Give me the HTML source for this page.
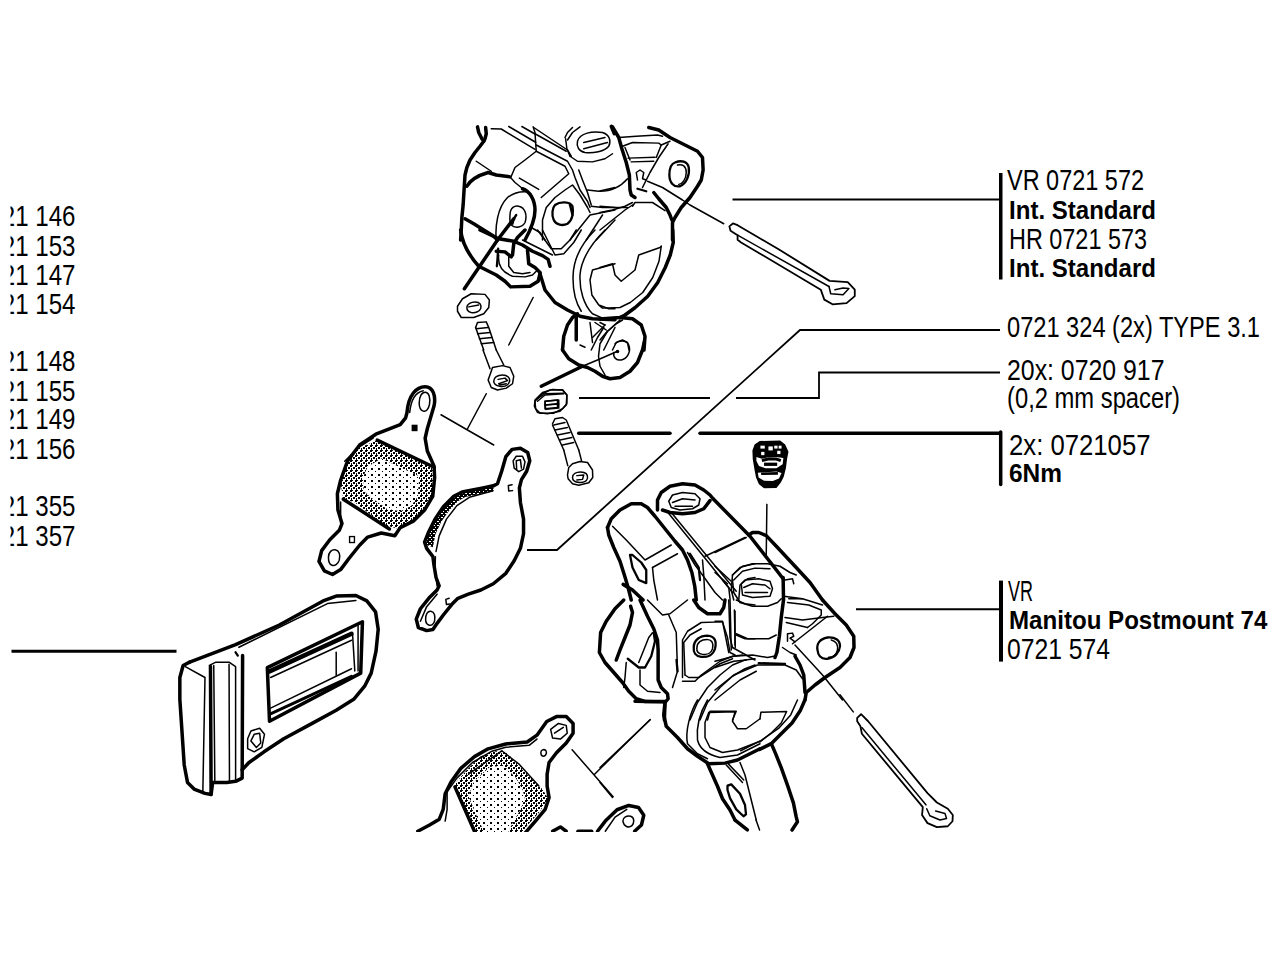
<!DOCTYPE html>
<html><head><meta charset="utf-8">
<style>
html,body{margin:0;padding:0;background:#fff;width:1280px;height:960px;overflow:hidden}
svg{position:absolute;left:0;top:0}
text{font-family:"Liberation Sans",sans-serif;font-size:29.5px;fill:#000}
.b{font-weight:bold;font-size:26.5px}
.k path,.t path,.m path,.k line,.t line,.m line{fill:none;stroke:#000;vector-effect:non-scaling-stroke;stroke-linejoin:round;stroke-linecap:round}
.k path,.k line{stroke-width:3.5px}
.t path,.t line{stroke-width:1.5px}
.m path,.m line{stroke-width:2.3px}
.p path{fill:none;stroke:#000;stroke-width:1.8px;vector-effect:non-scaling-stroke;stroke-linejoin:round}
.L path,.L line{fill:none;stroke:#000;stroke-width:1.8px}
</style></head><body>
<svg width="1280" height="960" viewBox="0 0 1280 960">
<g id="lefttext">
<text x="-25" y="226" textLength="100.5" lengthAdjust="spacingAndGlyphs">0721 146</text>
<text x="-25" y="255.5" textLength="100.5" lengthAdjust="spacingAndGlyphs">0721 153</text>
<text x="-25" y="284.5" textLength="100.5" lengthAdjust="spacingAndGlyphs">0721 147</text>
<text x="-25" y="314" textLength="100.5" lengthAdjust="spacingAndGlyphs">0721 154</text>
<text x="-25" y="371" textLength="100.5" lengthAdjust="spacingAndGlyphs">0721 148</text>
<text x="-25" y="400.5" textLength="100.5" lengthAdjust="spacingAndGlyphs">0721 155</text>
<text x="-25" y="429" textLength="100.5" lengthAdjust="spacingAndGlyphs">0721 149</text>
<text x="-25" y="458.5" textLength="100.5" lengthAdjust="spacingAndGlyphs">0721 156</text>
<text x="-25" y="516" textLength="100.5" lengthAdjust="spacingAndGlyphs">0721 355</text>
<text x="-25" y="545.5" textLength="100.5" lengthAdjust="spacingAndGlyphs">0721 357</text>
</g>
<rect x="0" y="180" width="10.5" height="400" fill="#fff"/>
<g id="righttext">
<text x="1007" y="190" textLength="137" lengthAdjust="spacingAndGlyphs">VR 0721 572</text>
<text class="b" x="1009" y="219" textLength="147" lengthAdjust="spacingAndGlyphs">Int. Standard</text>
<text x="1009" y="249" textLength="138" lengthAdjust="spacingAndGlyphs">HR 0721 573</text>
<text class="b" x="1009" y="277" textLength="147" lengthAdjust="spacingAndGlyphs">Int. Standard</text>
<text x="1007" y="337" textLength="253" lengthAdjust="spacingAndGlyphs">0721 324 (2x) TYPE  3.1</text>
<text x="1007" y="379.6" textLength="157.5" lengthAdjust="spacingAndGlyphs">20x: 0720 917</text>
<text x="1007" y="408" textLength="173" lengthAdjust="spacingAndGlyphs">(0,2 mm spacer)</text>
<text x="1009" y="454.5" textLength="141.5" lengthAdjust="spacingAndGlyphs">2x: 0721057</text>
<text class="b" x="1009" y="482" textLength="53" lengthAdjust="spacingAndGlyphs">6Nm</text>
<text x="1008" y="601" textLength="25" lengthAdjust="spacingAndGlyphs">VR</text>
<text class="b" x="1009" y="628.6" textLength="258.4" lengthAdjust="spacingAndGlyphs">Manitou Postmount 74</text>
<text x="1007" y="659.2" textLength="103" lengthAdjust="spacingAndGlyphs">0721 574</text>
</g>
<g transform="translate(595,480) scale(0.125)">
<g class="k">
<path d="M100,380 L130,310 L200,240 L290,190 L370,190 L420,220 L480,290 L560,390 L640,490 L700,560 L740,640 L775,740 L798,850 L810,960"/>
<path d="M100,380 L110,440 L150,540 L200,650 L235,760 L265,860 L290,960"/>
<path d="M225,835 L300,880 L385,960"/>
<path d="M500,240 L500,160 L530,100 L600,50 L700,30 L800,40 L870,80 L920,120 L945,150"/>
<path d="M540,240 L600,260 L700,270 L800,260 L870,230 L920,165"/>
</g>
<g class="m">
<path d="M280,600 L300,700 L350,800 L410,825 L410,720 L370,660 L300,600 Z"/>
<path d="M760,590 L830,700 L840,800"/>
</g>
<g class="t">
<path d="M590,170 L620,120 L700,100 L800,110 L840,150 L830,200 L780,230 L680,240 L610,220 Z"/>
<path d="M620,180 L700,150 L800,160"/>
<path d="M640,210 L780,210"/>
<path d="M585,262 L900,650 L1100,900"/>
<path d="M612,262 L930,650 L1130,890"/>
<path d="M880,610 L1200,460"/>
<path d="M140,370 L250,480 L400,640 L610,520"/>
<path d="M460,700 L660,590"/>
<path d="M460,700 L470,800 L500,960"/>
<path d="M740,580 L800,680 L860,760 L960,900 L1020,960"/>
<path d="M860,640 L870,760 L880,960"/>
<path d="M1100,760 L1180,690 L1280,670"/>
<path d="M1150,960 L1160,840 L1220,790 L1280,780"/>
</g>
</g>
<g transform="translate(715,480) scale(0.125)">
<g class="k">
<path d="M-15,150 L280,450 L460,680 L545,790"/>
<path d="M270,440 L300,420 L350,420 L410,445 L500,540 L640,690 L760,820 L860,960"/>
<path d="M545,780 L548,960"/>
</g>
<g class="t">
<path d="M415,195 L410,600"/>
<path d="M0,580 L250,460"/>
<path d="M140,760 L200,700 L300,670 L420,670 L520,690 L600,740 L650,760"/>
<path d="M150,800 L220,730 L320,705 L440,710"/>
<path d="M210,830 L240,800 L350,790 L440,810 L460,870 L440,930 L300,940 L220,920 Z"/>
<path d="M230,860 L300,830 L400,840 L440,870"/>
<path d="M240,900 L420,900"/>
<path d="M0,690 L130,810"/>
<path d="M0,740 L100,830"/>
<path d="M560,800 L620,790 L630,830"/>
<path d="M590,950 L700,950"/>
<path d="M140,760 L130,880 L150,960"/>
</g>
</g>
<g transform="translate(595,600) scale(0.125)">
<g class="k">
<path d="M230,0 L160,70 L90,170 L45,260 L35,420 L80,500 L150,580 L220,660 L270,730 L330,790 L400,812 L560,812"/>
<path d="M360,0 L420,130 L470,230 L500,320 L505,400 L505,640 L530,700 L580,750 L585,790 L560,820 L555,960"/>
<path d="M170,480 L200,400 L240,300 L280,200 L300,100 L285,50"/>
<path d="M790,0 L830,60 L900,110 L1000,110 L1030,60 L1040,0"/>
</g>
<g class="m">
<path d="M262,470 L350,540 L400,540 L450,450 L480,330 L470,262"/>
<path d="M652,480 L660,570"/>
<path d="M790,380 C790,320 840,285 900,285 C960,290 975,330 960,390 C945,440 900,460 850,455 C805,450 785,420 790,380 Z"/>
</g>
<g class="t">
<path d="M350,500 L430,300 L460,262"/>
<path d="M720,600 L750,620 L830,620 L1000,510 L1100,470"/>
<path d="M250,500 L240,620 L230,700"/>
<path d="M360,560 L360,680 L420,730 L520,740"/>
<path d="M590,120 L650,260 L660,570 L620,700"/>
<path d="M420,0 L540,120 L600,110 L740,0"/>
<path d="M700,650 L800,650 L850,600 L1000,490 L1100,450 L1180,440"/>
<path d="M700,620 L700,320 L740,250 L850,180 L1020,175 L1060,300 L1080,420 L1120,440"/>
<path d="M720,600 L710,340 L760,280 L850,230"/>
<path d="M815,385 C815,340 850,315 895,315 C940,320 950,350 940,390 C930,425 895,440 860,435 C830,430 812,410 815,385 Z"/>
<path d="M760,960 L820,820 L900,700 L1000,600 L1100,520 L1200,480 L1280,470"/>
<path d="M840,960 L900,820 L1000,700 L1100,610 L1200,550 L1280,520"/>
<path d="M1070,0 L1080,300 L1100,380"/>
<path d="M1120,90 L1120,360"/>
<path d="M1130,280 L1200,310 L1280,310"/>
<path d="M1130,0 L1200,30 L1280,40"/>
<path d="M1100,380 L1280,480"/>
<path d="M900,960 L920,890 L1130,890 L1100,960"/>
</g>
</g>
<g transform="translate(715,580) scale(0.125)">
<g class="k">
<path d="M860,160 L960,270 L1050,360 L1110,450 L1112,540 L1080,620 L1000,700 L880,780 L800,840 L730,900 L720,960"/>
<path d="M548,160 L530,300 L515,450 L495,580 L480,620"/>
<path d="M640,610 L680,680 L710,760 L720,900"/>
</g>
<g class="m">
<path d="M820,560 C810,510 840,470 900,460 C960,455 1000,480 1000,530 C995,580 960,620 900,630 C850,635 825,610 820,560 Z"/>
<path d="M350,665 L560,672"/>
</g>
<g class="t">
<path d="M930,480 C970,490 985,520 980,560 C972,600 940,620 910,618"/>
<path d="M140,0 L150,100 L200,180 L300,210 L420,210 L500,180 L530,150"/>
<path d="M155,240 L162,540"/>
<path d="M170,430 L260,470 L430,470 L490,440"/>
<path d="M550,130 L700,150 L860,200"/>
<path d="M580,180 L750,200 L850,240 L850,280 L780,350 L740,380"/>
<path d="M560,300 L700,320 L860,300 L950,290"/>
<path d="M570,340 L740,380"/>
<path d="M580,490 L580,430 L620,425 L630,450 L600,465 L640,495"/>
<path d="M620,510 L900,290"/>
<path d="M640,520 L860,760 L1020,960"/>
<path d="M540,540 L600,580 L650,600"/>
<path d="M60,0 L110,60 L120,150 L130,560"/>
<path d="M0,330 L60,330 L110,580"/>
<path d="M0,650 L150,610 L300,600 L420,620 L470,610"/>
<path d="M0,700 L150,650 L250,640"/>
<path d="M0,880 L150,760 L340,680 L560,680 L650,720 L700,790"/>
<path d="M0,960 L100,880 L200,800 L330,730"/>
</g>
</g>
<g transform="translate(600,700) scale(0.125)">
<g class="k">
<path d="M280,10 L520,15 L510,120 L530,210 L620,300 L700,390 L780,450 L870,510 L1000,505 L1100,480 L1200,430 L1280,390"/>
<path d="M860,510 L900,600 L940,690 L980,790 L1040,880 L1080,960"/>
</g>
<g class="m">
<path d="M1020,685 L1050,675 L1120,750 L1160,840 L1168,915 L1148,930 L1090,875 L1040,785 L1020,720 Z"/>
</g>
<g class="t">
<path d="M1120,500 L1160,600 L1200,760 L1250,960"/>
<path d="M1010,520 L1140,660"/>
<path d="M1030,515 L1150,640"/>
<path d="M780,0 C720,100 680,250 700,350 L780,430 L860,470"/>
<path d="M860,0 C800,100 770,220 780,320 C800,400 870,440 960,460 L1100,440 L1280,350"/>
<path d="M870,100 L1080,95 L1060,170 L1100,230 L1170,230 L1280,150"/>
<path d="M870,100 L840,180 L840,300 L880,380 L980,420 L1100,400 L1280,330"/>
<path d="M400,160 L0,540"/>
<path d="M0,660 L100,780"/>
</g>
</g>
<g transform="translate(700,700) scale(0.13536)">
<g class="k">
<path d="M775,0 L740,80 L680,170 L600,250 L530,320 L440,365"/>
<path d="M530,330 L560,400 L600,500 L650,640 L690,760 L710,860 L720,900 L680,960"/>
<path d="M259,887 L350,960"/>
</g>
<g class="t">
<path d="M443,140 L450,90 L640,85 L600,170 L530,240 L443,310"/>
<path d="M720,0 L670,110 L580,210 L450,300 L300,375"/>
<path d="M414,887 L440,960"/>
</g>
</g>
<g transform="translate(740,430) scale(0.0729)">
<path d="M270,150 L550,145 L620,200 L665,300 L645,400 L630,520 L600,640 L560,720 L500,795 L330,800 L260,745 L220,650 L200,550 L175,400 L170,280 L200,200 Z" fill="#000"/>
<path d="M225,370 L300,395 L400,370 L500,370 L595,385 L585,470 L500,525 L350,525 L260,495 L225,425 Z" fill="#fff"/>
<path d="M300,420 L400,395 L500,398 L560,420" stroke="#000" stroke-width="40" fill="none"/>
<path d="M330,470 L510,470" stroke="#000" stroke-width="45" fill="none"/>
<path d="M245,585 L500,570 L570,590 L535,665 L450,700 L330,695 L255,650 Z" fill="#fff"/>
<path d="M290,600 L520,595" stroke="#000" stroke-width="35" fill="none"/>
<rect x="280" y="215" width="60" height="40" fill="#fff"/>
<rect x="390" y="225" width="60" height="55" fill="#fff"/>
<rect x="470" y="215" width="45" height="40" fill="#fff"/>
<rect x="530" y="215" width="40" height="40" fill="#fff"/>
<rect x="290" y="300" width="45" height="45" fill="#fff"/>
<rect x="510" y="285" width="45" height="45" fill="#fff"/>
</g>
<defs>
<pattern id="darkdots" width="4" height="4" patternUnits="userSpaceOnUse"><rect width="4" height="4" fill="#000"/><rect x="1" y="1" width="2" height="1" fill="#fff"/><rect x="3" y="3" width="1" height="1" fill="#fff"/></pattern>
<pattern id="dense" width="3" height="3" patternUnits="userSpaceOnUse"><rect width="1.6" height="1.6" fill="#000"/></pattern>
<pattern id="dense2" width="5" height="5" patternUnits="userSpaceOnUse"><rect width="2" height="2" fill="#000"/><rect x="3" y="2" width="2" height="2" fill="#000"/><rect x="1" y="3" width="1" height="2" fill="#000"/><rect x="2" y="0" width="1" height="1" fill="#000"/></pattern>
<pattern id="sparse" width="7" height="6" patternUnits="userSpaceOnUse"><rect width="2" height="2" fill="#000"/><rect x="4" y="3" width="1" height="1" fill="#000"/></pattern>
</defs>
<clipPath id="fr1o"><path transform="translate(300,380) scale(0.27087)" d="M285,222 L495,322 L492,430 L462,480 L420,518 L360,548 L310,535 L200,450 L160,440 L150,380 L175,300 L220,250 Z"/></clipPath>
<clipPath id="fr1i"><path transform="translate(300,380) scale(0.27087)" d="M300,290 L440,355 L435,430 L410,465 L370,485 L320,475 L250,425 L235,405 L232,360 L250,320 Z"/></clipPath>
<rect x="330" y="430" width="120" height="120" fill="url(#dense2)" clip-path="url(#fr1o)"/>
<rect x="330" y="430" width="120" height="120" fill="#fff" clip-path="url(#fr1i)"/>
<rect x="330" y="430" width="120" height="120" fill="url(#sparse)" clip-path="url(#fr1i)"/>
<g transform="translate(300,380) scale(0.27087)">
<g class="k">
<path d="M395,120 C400,55 430,25 462,25 C492,25 502,60 495,95 L470,180 L462,215 L470,262 L495,318 L497,360 L490,430 L460,480 L420,520 L370,545 L350,575 L300,565 L250,580 L220,610 L180,660 L150,700 L120,718 L90,705 L70,670 L80,630 L110,590 L145,555 L155,530 L140,480 L138,420 L150,370 L175,300 L220,240 L280,200 L330,180 L370,165 L390,140 Z"/>
<path d="M285,222 L495,322"/>
<path d="M160,440 L330,550"/>
</g>
<g class="t">
<path d="M440,85 C440,60 450,45 462,45 C476,45 482,65 478,90 C474,110 465,118 455,115 C445,112 440,100 440,85 Z"/>
<path d="M405,120 C410,70 430,45 455,40"/>
<path d="M105,655 C105,635 118,625 130,627 C145,630 150,645 145,665 C140,680 128,688 118,684 C108,680 105,668 105,655 Z"/>
<path d="M150,450 L150,530"/>
<path d="M165,300 L215,250 L270,215"/>
</g>
<rect x="412" y="165" width="22" height="24" fill="#000"/>
<rect x="183" y="578" width="18" height="22" fill="none" stroke="#000" stroke-width="5"/>
</g>
<clipPath id="sh2"><path transform="translate(410,440) scale(0.20833)" d="M70,500 L88,440 L118,380 L158,320 L208,268 L250,248 L300,238 L400,218 L402,246 L310,264 L265,274 L230,294 L188,338 L150,392 L122,452 L110,515 Z"/></clipPath>
<rect x="420" y="480" width="90" height="80" fill="url(#darkdots)" clip-path="url(#sh2)"/>
<g transform="translate(410,440) scale(0.20833)">
<g class="k">
<path d="M420,210 L440,150 L460,80 L490,45 L530,40 L565,60 L575,100 L560,150 L535,190 L525,230 L530,300 L545,380 L545,450 L530,520 L500,580 L460,640 L400,690 L340,720 L280,740 L230,760 L200,790 L160,840 L130,880 L110,910 L80,915 L40,900 L30,860 L50,810 L90,760 L130,720 L140,700 L125,660 L115,600 L110,560 L80,520 L70,490 L90,440 L120,380 L160,320 L210,270 L250,250 L300,240 L350,230 L400,220 Z"/>
</g>
<g class="t">
<path d="M125,535 L140,460 L175,380 L225,315 L285,275 L395,245"/>
<path d="M130,700 L120,620 L122,560"/>
<path d="M500,135 L495,100 L510,78 L540,78 L552,105 L545,140 L522,152 Z"/>
<path d="M512,140 L510,100 L530,95 L535,135"/>
<path d="M75,860 C75,835 85,820 100,822 C118,825 122,845 118,868 C114,885 102,892 90,888 C80,884 75,875 75,860 Z"/>
<path d="M490,215 L472,218 L474,245 L492,243"/>
<path d="M188,760 L172,765 L175,790 L190,787"/>
<path d="M50,870 L80,800 L130,740"/>
</g>
</g>
<clipPath id="fr3o"><path transform="translate(410,740) scale(0.11719)" d="M370,390 L480,260 L600,140 L700,100 L800,90 L900,180 L1020,300 L1130,420 L1180,500 L1100,620 L1000,730 L950,800 L560,800 Z"/></clipPath>
<clipPath id="fr3i"><path transform="translate(410,740) scale(0.11719)" d="M540,360 L680,230 L800,220 L900,320 L960,420 L980,500 L940,600 L880,700 L830,800 L640,800 L570,650 L500,480 Z"/></clipPath>
<rect x="450" y="745" width="100" height="90" fill="url(#dense2)" clip-path="url(#fr3o)"/>
<rect x="450" y="745" width="100" height="90" fill="#fff" clip-path="url(#fr3i)"/>
<rect x="450" y="745" width="100" height="90" fill="url(#sparse)" clip-path="url(#fr3i)"/>
<g transform="translate(410,700) scale(0.19531)">
<g class="k">
<path d="M40,672 L100,640 L150,610 L170,560 L180,480 L210,420 L260,350 L330,290 L400,250 L490,225 L600,215 L650,180 L700,110 L750,85 L800,85 L835,120 L835,170 L800,220 L750,270 L712,320 L702,380 L702,440 L712,500 L692,560 L642,620 L590,680"/>
<path d="M230,445 L330,672"/>
<path d="M960,672 L1000,620 L1060,562 L1120,540 L1170,550 L1197,590 L1185,640 L1150,672"/>
<path d="M730,672 L770,650 L800,672"/>
<path d="M860,672 L930,672"/>
</g>
<g class="t">
<path d="M180,620 L190,560 L190,470 L240,400 L320,320 L420,262 L490,242 L610,232 L650,200"/>
<path d="M300,380 L470,260 L560,330 L660,440"/>
<path d="M720,150 L760,120 L800,130 L805,170 L770,200 L730,195 Z"/>
<path d="M740,170 L785,140"/>
<path d="M670,270 C670,255 685,250 695,258 C702,268 698,285 685,288 C675,288 670,280 670,270 Z"/>
<path d="M1230,100 L945,380"/>
<path d="M830,255 L1040,495"/>
<path d="M1000,672 L1050,600 L1110,560"/>
<path d="M1090,620 C1090,600 1110,590 1130,595 C1150,602 1150,630 1135,645 C1120,655 1095,650 1090,620 Z"/>
</g>
</g>
<rect x="0" y="832" width="1280" height="128" fill="#fff"/>
<rect x="430" y="0" width="300" height="126" fill="#fff"/>
<g transform="translate(720,200) scale(0.11719)">
<g class="p">
<path d="M80,225 L110,200 L150,215 L500,420 L935,690 L1090,700 L1150,765 L1150,820 L1080,880 L960,890 L890,850 L860,765 L180,362 L150,340 L150,300 L90,262 Z"/>
</g>
<g class="t">
<path d="M150,300 L930,738"/>
<path d="M930,738 L945,800 L1050,808 L1100,755 L1050,750 L980,765"/>
</g>
</g>
<g transform="translate(840,690) scale(0.15625)">
<g class="p">
<path d="M110,178 L135,155 L180,200 L560,660 L620,720 L690,760 L722,800 L720,840 L690,872 L620,878 L560,852 L525,800 L530,750 L140,280 L130,230 L110,200 Z"/>
</g>
<g class="t">
<path d="M140,240 L550,735"/>
<path d="M555,760 L575,805 L640,832 L682,822 L672,790 L612,775"/>
<path d="M0,30 L85,140"/>
</g>
</g>
<g transform="translate(170,590) scale(0.21869)">
<g class="k">
<path d="M90,330 L300,250 L500,160 L700,50 L760,28 L850,25 L900,50 L940,100 L952,180 L942,280 L920,380 L890,440 L840,500 L760,550 L650,610 L520,680 L430,740 L360,790 L330,822"/>
<path d="M90,330 L60,345 L45,400 L45,500 L55,650 L65,800 L80,880 L110,910 L160,930 L188,935 L195,880 L260,880 L300,875 L330,860 L332,300"/>
<path d="M188,935 L185,350"/>
<path d="M445,355 L880,145 L872,380 L455,600 Z"/>
</g>
<g class="m">
<path d="M300,285 L310,300"/>
<path d="M455,372 L830,200" style="stroke-width:4.5px"/>
<path d="M462,565 L830,395" style="stroke-width:3px"/>
</g>
<g class="t">
<path d="M70,350 L160,400 L150,930"/>
<path d="M200,345 L205,880"/>
<path d="M180,345 L210,330 L270,330 L300,350 L300,875"/>
<path d="M270,340 L272,880"/>
<path d="M315,262 L720,62 L850,48"/>
<path d="M460,400 L830,230"/>
<path d="M460,540 L830,360"/>
<path d="M760,285 L760,390"/>
<path d="M835,205 L845,370"/>
<path d="M860,155 L860,370"/>
<path d="M355,680 L370,645 L410,632 L432,660 L420,720 L385,740 L355,725 Z"/>
<path d="M370,690 L385,660 L410,655 L415,700 L395,720 Z"/>
</g>
</g>
<line x1="11.5" y1="651.3" x2="176.5" y2="651.3" stroke="#000" stroke-width="3"/>
<g transform="translate(455,120) scale(0.125)">
<g class="k">
<path d="M180,55 L190,100 L215,150 L230,170 L200,210 L160,260 L120,320 L95,380 L80,440 L75,520 L70,600 L65,680 L55,780 L50,880 L45,960"/>
<path d="M245,60 L250,110 L240,150 L230,170"/>
<path d="M95,530 C120,485 180,445 265,420 L330,440 L440,455"/>
<path d="M540,550 C600,570 640,640 640,720 C640,800 610,870 560,960"/>
<path d="M80,790 L150,830 L230,880 L310,930 L340,960"/>
<path d="M1250,50 L1275,110"/>
</g>
<g class="t">
<path d="M440,455 L480,500 L540,548"/>
<path d="M170,330 L290,410"/>
<path d="M290,70 L370,72 L640,235"/>
<path d="M430,52 L645,178"/>
<path d="M535,52 L640,112"/>
<path d="M625,55 L640,100 L645,180 L650,250"/>
<path d="M630,60 L900,240 L930,290"/>
<path d="M640,110 L890,250"/>
<path d="M650,200 L900,330 L940,400 L960,460 L1000,560 L1060,650 L1080,700"/>
<path d="M650,250 L880,370 L910,430 L690,620"/>
<path d="M650,250 L560,320 L480,380 L450,450"/>
<path d="M515,465 L670,555"/>
<path d="M990,400 L1020,480 L1060,580 L1090,680"/>
<path d="M700,960 L700,800 L730,700 L800,620 L880,560 L940,520 L1000,600 L1060,700 L1080,740"/>
<path d="M330,960 C320,850 340,700 420,620 C470,580 520,570 580,575"/>
<path d="M440,760 C440,700 480,680 510,690 C560,700 580,760 560,820 C540,860 480,870 450,840 C435,820 438,790 440,760 Z"/>
<path d="M610,860 L680,900 L720,960"/>
<path d="M880,140 L900,100 L940,60"/>
<path d="M885,150 L895,230 L920,290"/>
<path d="M900,160 L940,100 L1000,55"/>
<path d="M980,170 C1000,100 1100,90 1180,100 C1240,120 1250,170 1230,210 C1200,250 1100,270 1040,260 C990,250 970,210 980,170 Z"/>
<path d="M1030,180 L1200,140"/>
<path d="M1030,230 L1220,180"/>
<path d="M920,290 L980,330 L1100,335 L1200,310 L1260,270"/>
<path d="M1060,560 L1150,570 L1280,540"/>
<path d="M1090,690 L1180,700 L1280,700"/>
<path d="M920,960 L1080,760 L1280,720"/>
<path d="M1050,960 L1180,760"/>
<path d="M1130,960 L1280,800"/>
</g>
<g class="m">
<path d="M800,680 C840,650 920,650 940,690 C950,740 940,800 900,830 C860,850 810,840 790,800 C770,760 780,700 800,680 Z"/>
<path d="M920,680 L940,760"/>
<path d="M490,760 L470,790 L460,830"/>
</g>
</g>
<g transform="translate(600,120) scale(0.125)">
<g class="k">
<path d="M100,55 L150,140 L175,230 L210,340 L235,440 L240,560 L250,600 L280,620"/>
<path d="M390,60 L470,80 L560,140 L680,200 L780,250 L820,300 L825,400 L810,480 L780,530 L720,620 L650,700 L600,780 L580,820 L580,960"/>
<path d="M430,580 L470,630 L530,700 L560,760 L575,800"/>
</g>
<g class="m">
<path d="M600,340 C650,320 700,330 710,380 C720,440 690,510 640,530 C590,540 555,500 555,440 C555,390 570,350 600,340 Z"/>
<path d="M300,550 L370,570"/>
</g>
<g class="t">
<path d="M150,140 L290,130 L460,120 L500,130"/>
<path d="M180,210 L260,180 L470,185 L490,200"/>
<path d="M200,220 L240,320"/>
<path d="M490,200 L450,300"/>
<path d="M225,305 L440,298"/>
<path d="M250,335 L430,330"/>
<path d="M490,200 L560,170"/>
<path d="M545,190 L470,300 L400,420 L360,500 L340,540"/>
<path d="M380,490 L500,540 L660,640 L720,680 L990,830"/>
<path d="M300,480 L290,420 L320,400 L350,420 L340,470 L370,480"/>
<path d="M0,690 L120,700 L220,700"/>
<path d="M0,740 L100,720 L200,690 L260,660"/>
<path d="M260,690 L280,660 L420,660 L520,725"/>
<path d="M0,880 L100,800 L200,720 L260,680"/>
<path d="M0,570 C80,570 160,540 220,470"/>
<path d="M620,360 C660,350 690,370 690,420 C690,470 660,510 630,515"/>
</g>
</g>
<line x1="732.5" y1="199.5" x2="1000" y2="199.5" stroke="#000" stroke-width="1.8"/>
<rect x="999" y="173" width="3.5" height="106.5" fill="#000"/>
<g transform="translate(455,230) scale(0.125)">
<g class="k">
<path d="M45,0 C55,90 100,190 190,290 L330,360 L400,410 L445,455 L600,450 L665,410 L680,350"/>
<path d="M680,350 L720,480 L800,580 L900,640 L1000,690 L1100,710 L1280,718"/>
<path d="M200,0 L350,70 L470,90 L540,120 L620,170 L700,205 L745,235 L760,290"/>
<path d="M560,0 L500,60 L470,110 L460,200"/>
<path d="M330,170 L400,175 L450,215"/>
<path d="M75,470 L340,80 L470,-90"/>
<path d="M580,160 L590,270 L640,300 L680,340"/>
<path d="M860,960 L870,850 L900,760 L940,700 L980,670"/>
<path d="M970,690 L970,880"/>
</g>
<g class="m">

<path d="M345,150 L340,230 L335,290"/>
</g>
<g class="t">
<path d="M1120,0 C1020,100 950,230 945,360 C940,480 965,580 1010,650"/>
<path d="M1200,0 C1100,100 1010,230 1000,360 C995,480 1030,600 1100,670 L1180,705"/>
<path d="M1280,270 L1100,320 L1080,400 L1095,520 L1150,600 L1230,630 L1280,630"/>
<path d="M660,0 L770,150 L850,150 L920,80 L970,0"/>
<path d="M700,0 L800,200 L870,190 L950,100 L1010,0"/>
<path d="M540,80 L700,160 L780,200"/>
<path d="M350,200 C340,280 380,340 460,370 L560,375 L620,360 L650,330"/>
<path d="M430,200 L430,290 L470,340 L540,350 L600,340"/>
<path d="M20,610 L60,550 L130,510 L240,515 L275,560 L270,620 L230,670 L150,700 L50,700 L20,650 Z"/>
<path d="M95,620 C95,590 130,575 160,575 C200,575 215,600 205,630 C195,655 160,665 130,660 C105,655 95,640 95,620 Z"/>
<path d="M110,615 L190,600"/>
<path d="M165,780 L180,740 L250,735 L270,780 L330,960"/>
<path d="M165,780 L230,960"/>
<path d="M170,790 L265,780"/>
<path d="M180,830 L280,820"/>
<path d="M195,870 L295,860"/>
<path d="M210,910 L310,900"/>
<path d="M625,540 L430,920"/>
<path d="M1090,960 L1140,860 L1190,780"/>
<path d="M1190,960 L1230,880 L1280,780"/>
</g>
</g>
<g transform="translate(600,230) scale(0.125)">
<g class="k">
<path d="M582,0 L586,100 L562,200 L522,300 L462,420 L382,530 L282,620 L200,680 L160,700 L0,712"/>
<path d="M160,700 L260,710 L330,760 L360,850 L352,960"/>
</g>
<g class="t">
<path d="M490,130 L472,250 L422,380 L342,500 L242,580 L160,620 L20,625 L0,610"/>
<path d="M0,300 L100,270 L120,360 L170,410 L280,320 L310,200 L480,140 L490,130"/>
<path d="M100,960 L130,900 L180,880 L220,900 L232,960"/>
<path d="M0,880 L50,820 L130,750 L180,720"/>
<path d="M0,740 L40,760"/>
</g>
</g>
<g transform="translate(520,300) scale(0.125)">
<g class="k">
<path d="M340,400 L390,470 L470,520 L540,540 L600,570 L660,610 L720,630 L800,620 L880,570 L940,500 L980,400 L995,330"/>
<path d="M170,690 L500,530"/>
</g>
<g class="t">
<path d="M480,360 L520,378"/>
<path d="M560,180 L580,340"/>
<path d="M580,300 L680,200"/>
<path d="M600,180 L690,240"/>
<path d="M800,160 L700,250 L640,350 L628,450 L640,530 L680,600"/>
<path d="M760,350 C790,320 850,320 870,360 C890,410 860,470 810,480 C770,485 745,460 750,420"/>
<path d="M500,530 L620,480 L780,410"/>
<path d="M120,800 L180,740 L260,715 L340,720 L375,760 L370,840 L320,890 L220,910 L140,900 L115,850 Z"/>
<path d="M140,790 L200,750 L350,745"/>
<path d="M200,810 L300,800 L300,860 L200,870 Z"/>
<path d="M200,840 L300,830"/>
</g>
<circle cx="780" cy="412" r="14" fill="#000" stroke="none"/>
</g>
<g transform="translate(455,330) scale(0.125)">
<g class="t">
<path d="M224,160 L280,310"/>
<path d="M330,160 L390,280"/>
<path d="M265,400 L290,330 L300,300 L380,285 L440,300 L470,370 L460,430 L410,465 L340,480 L290,460 L265,400 Z"/>
<path d="M310,410 C310,380 340,360 380,360 C420,360 445,385 435,415 C425,445 390,455 360,450 C330,445 310,430 310,410 Z"/>
<path d="M345,395 L400,385 L420,405 L350,430 L360,440 L410,430"/>
<path d="M250,510 L100,790"/>
<path d="M-112,678 L100,800 L310,920"/>
<path d="M640,570 L700,510 L760,480 L860,478 L895,520 L895,590 L860,630 L790,665 L680,665 L645,630 Z"/>
<path d="M660,570 L720,520 L870,510"/>
<path d="M720,570 L830,560 L830,625 L725,635 Z"/>
<path d="M722,600 L830,592"/>
<path d="M780,750 L800,710 L860,700 L890,720 L990,960"/>
<path d="M780,760 L870,960"/>
<path d="M790,760 L880,740"/>
<path d="M800,800 L900,780"/>
<path d="M820,840 L920,820"/>
<path d="M840,880 L935,860"/>
<path d="M860,920 L950,900"/>
</g>
</g>
<g transform="translate(520,400) scale(0.125)">
<g class="t">
<path d="M350,400 L382,525"/>
<path d="M470,400 L492,485"/>
<path d="M380,600 L390,540 L420,510 L480,492 L540,500 L580,560 L582,620 L550,662 L470,682 L420,670 L385,630 Z"/>
<path d="M420,620 C420,590 450,575 485,575 C525,575 545,595 540,625 C535,650 505,662 475,660 C440,657 420,645 420,620 Z"/>
<path d="M455,605 L510,600 L500,635 L455,640"/>
</g>
</g>
<g class="k">
<line x1="578.75" y1="433.3" x2="670" y2="433.3"/>
<line x1="700" y1="433.3" x2="1000" y2="433.3"/>
<line x1="1000.7" y1="431.9" x2="1000.7" y2="484.5" style="stroke-width:3.5px"/>
</g>
<g class="L">
<path d="M579,398 L710,398"/>
<path d="M736,398 L819,398 L819,372.5 L1000,372.5"/>
<path d="M527,550 L557,550 L800,330 L1000,330"/>
</g>
<line x1="856" y1="609.2" x2="999.5" y2="609.2" stroke="#000" stroke-width="2"/>
<rect x="999" y="580.6" width="4" height="81" fill="#000"/>
</svg>
</body></html>
